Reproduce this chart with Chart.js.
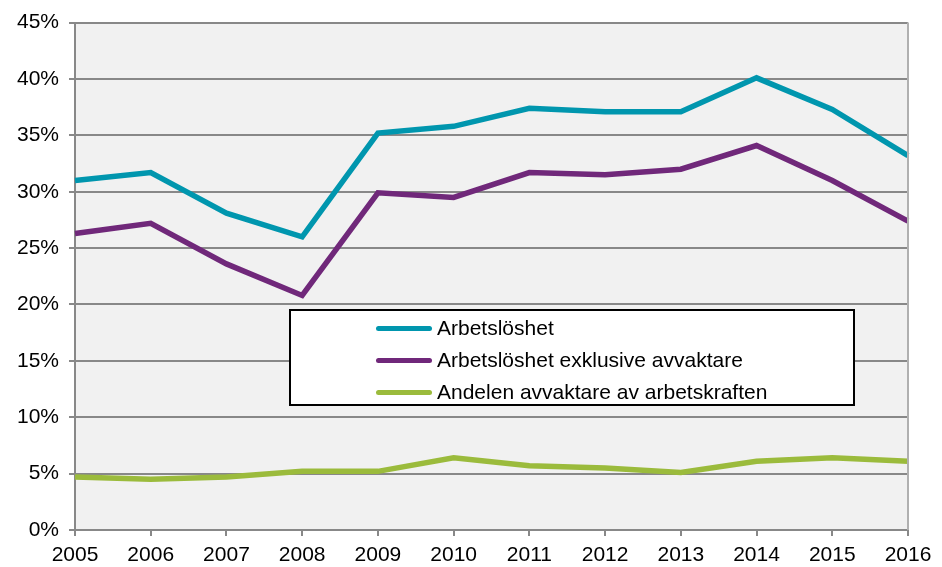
<!DOCTYPE html>
<html>
<head>
<meta charset="utf-8">
<script src="https://cdn.jsdelivr.net/npm/chart.js@4"></script>
<style>
  html, body { margin: 0; padding: 0; background: #fff; }
  #wrap { position: relative; width: 942px; height: 567px; }
  #legend {
    position: absolute; left: 289px; top: 309px; width: 562px; height: 93px;
    border: 2px solid #000; background: #fff;
    font-family: "Liberation Sans", Arial, sans-serif; font-size: 21px; color: #000;
  }
  #legend .item { position: absolute; left: 85px; height: 32px; line-height: 32px; white-space: nowrap; }
  #legend .swatch { display: inline-block; width: 56px; height: 5px; border-radius: 3px; vertical-align: middle; margin-right: 5px; position: relative; top: -1px; }
</style>
</head>
<body>
<div id="wrap">
  <canvas id="chart" width="942" height="567"></canvas>
  <div id="legend"></div>
</div>
<script>
const years = ['2005', '2006', '2007', '2008', '2009', '2010', '2011', '2012', '2013', '2014', '2015', '2016'];
const arbetsloshet = [31.0, 31.7, 28.1, 26.0, 35.2, 35.8, 37.4, 37.1, 37.1, 40.1, 37.3, 33.2];
const exklAvvaktare = [26.3, 27.2, 23.6, 20.8, 29.9, 29.5, 31.7, 31.5, 32.0, 34.1, 31.0, 27.4];
const andelAvvaktare = [4.7, 4.5, 4.7, 5.2, 5.2, 6.4, 5.7, 5.5, 5.1, 6.1, 6.4, 6.1];
const seriesNames = ['Arbetslöshet', 'Arbetslöshet exklusive avvaktare', 'Andelen avvaktare av arbetskraften'];
const seriesColors = ['#0096AE', '#70287A', '#9BBB3C'];

const plotBackground = {
  id: 'plotBackground',
  beforeDraw: function(chart) {
    const a = chart.chartArea;
    const ctx = chart.ctx;
    ctx.save();
    ctx.fillStyle = '#f1f1f1';
    ctx.fillRect(a.left, a.top, a.right - a.left, a.bottom - a.top);
    ctx.restore();
  },
  afterDatasetsDraw: function(chart) {
    const a = chart.chartArea;
    const ctx = chart.ctx;
    ctx.save();
    ctx.strokeStyle = '#b0b0b0';
    ctx.lineWidth = 2;
    ctx.beginPath();
    ctx.moveTo(a.right, a.top);
    ctx.lineTo(a.right, a.bottom);
    ctx.stroke();
    ctx.restore();
  }
};

const ctx = document.getElementById('chart').getContext('2d');
const chart = new Chart(ctx, {
  type: 'line',
  data: {
    labels: years,
    datasets: [arbetsloshet, exklAvvaktare, andelAvvaktare].map(function(values, i) {
      return {
        label: seriesNames[i],
        data: values,
        borderColor: seriesColors[i],
        backgroundColor: seriesColors[i],
        borderWidth: 5.5,
        pointRadius: 0,
        tension: 0,
        fill: false
      };
    })
  },
  options: {
    responsive: false,
    animation: false,
    layout: { padding: { top: 19, right: 34, left: 0, bottom: 0 } },
    plugins: {
      legend: { display: false },
      tooltip: { enabled: false }
    },
    scales: {
      x: {
        offset: false,
        grid: { drawOnChartArea: false, drawTicks: true, tickLength: 6, color: '#888', lineWidth: 2 },
        border: { color: '#888', width: 2 },
        ticks: {
          color: '#000', maxRotation: 0, autoSkip: false, padding: 7,
          font: { family: '"Liberation Sans", Arial, sans-serif', size: 21 }
        },
        afterFit: function(scale) { scale.height = 37; }
      },
      y: {
        min: 0,
        max: 45,
        grid: { color: '#888', lineWidth: 2, tickLength: 6 },
        border: { color: '#888', width: 2 },
        ticks: {
          stepSize: 5, color: '#000', padding: 10,
          font: { family: '"Liberation Sans", Arial, sans-serif', size: 21 },
          callback: function(v) { return v + '%'; }
        },
        afterFit: function(scale) { scale.width = 75; }
      }
    }
  },
  plugins: [plotBackground]
});

// legend built from the same series names and colours
const legendEl = document.getElementById('legend');
seriesNames.forEach(function(name, i) {
  const item = document.createElement('div');
  item.className = 'item';
  item.style.top = (1 + i * 32) + 'px';
  item.innerHTML = '<span class="swatch" style="background:' + seriesColors[i] + '"></span>' + name;
  legendEl.appendChild(item);
});
</script>
</body>
</html>
